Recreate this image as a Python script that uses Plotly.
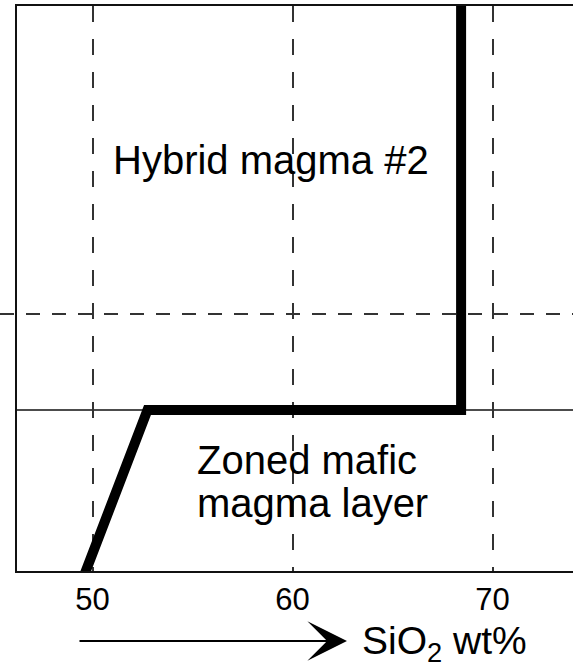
import plotly.graph_objects as go

# Data
path_sio2 = [49.45, 52.75, 68.43, 68.43]
path_level = [-2, 28.5, 28.5, 102]
grid_sio2 = [50, 60, 70]
tick_labels = ["50", "60", "70"]
boundary_level = 28.5
dashed_level = 45.5

FONT = "Liberation Sans, Arial, Helvetica, sans-serif"

fig = go.Figure()

fig.add_trace(go.Scatter(
    x=path_sio2, y=path_level, mode="lines",
    line=dict(color="black", width=10),
    hoverinfo="skip", showlegend=False,
))

# solid boundary line
fig.add_shape(type="line", xref="paper", yref="y", x0=0, x1=1,
              y0=boundary_level, y1=boundary_level,
              line=dict(color="#111", width=1.6), layer="below")
# dashed horizontal line (extends left beyond the frame)
fig.add_shape(type="line", xref="paper", yref="y", x0=-17/556, x1=1,
              y0=dashed_level, y1=dashed_level,
              line=dict(color="#333", width=2, dash="14px,12px"), layer="below")

ann = dict(showarrow=False, font=dict(family=FONT, size=40, color="black"),
           xanchor="left", yanchor="middle", xref="paper", yref="paper")
fig.add_annotation(text="Hybrid magma #2", x=(111-17)/556, y=(571-160)/565, **ann)
fig.add_annotation(text="Zoned mafic", x=(195-17)/556, y=(571-460)/565, **ann)
fig.add_annotation(text="magma layer", x=(195-17)/556, y=(571-503)/565, **ann)
fig.add_annotation(text="SiO<sub>2</sub> wt%", x=(360-17)/556, y=(571-643)/565,
                   showarrow=False, font=dict(family=FONT, size=39, color="black"),
                   xanchor="left", yanchor="middle", xref="paper", yref="paper")

# arrow
fig.add_annotation(text="", xref="paper", yref="paper",
                   x=(347-17)/556, y=(571-641)/565,
                   ax=78-347, ay=0, axref="pixel", ayref="pixel",
                   showarrow=True, arrowhead=3, arrowsize=3.0, arrowwidth=2.2,
                   arrowcolor="black", standoff=0)

fig.update_layout(
    width=573, height=670,
    margin=dict(l=17, r=0, t=6, b=99),
    paper_bgcolor="white", plot_bgcolor="white",
    showlegend=False,
    xaxis=dict(range=[46.225, 74.025], tickvals=grid_sio2, ticktext=tick_labels,
               showgrid=True, gridcolor="#333", gridwidth=2, griddash="16px,17px",
               zeroline=False, showline=True, linecolor="#111", linewidth=2,
               mirror=True, ticks="",
               tickfont=dict(family=FONT, size=31, color="black")),
    yaxis=dict(range=[0, 100], showticklabels=False, showgrid=False,
               zeroline=False, showline=True, linecolor="#111", linewidth=2,
               ticks=""),
)

fig.write_html("out.html")
